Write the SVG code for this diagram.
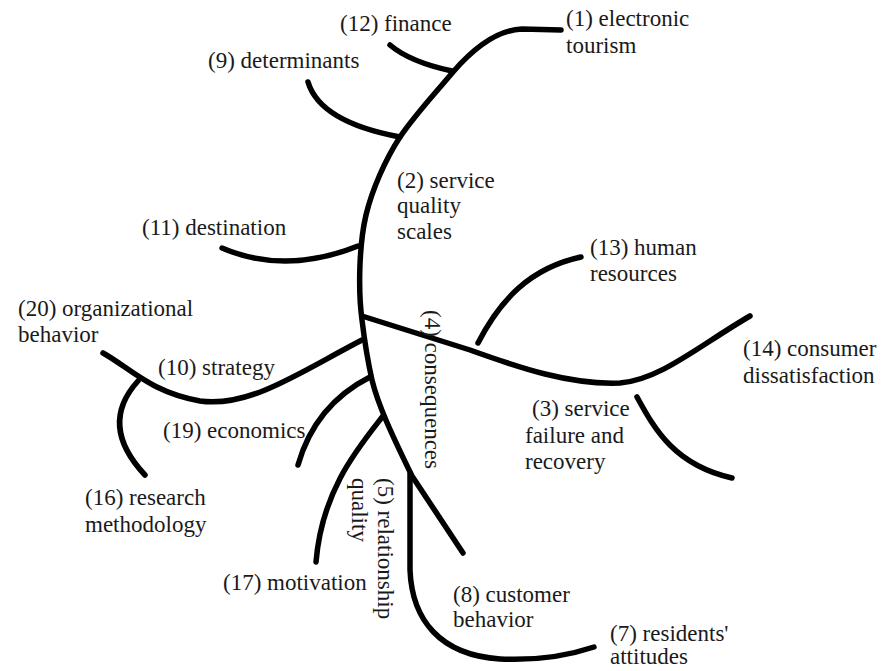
<svg xmlns="http://www.w3.org/2000/svg" width="888" height="671" viewBox="0 0 888 671">
<style>
.c{fill:none;stroke:#000;stroke-width:5.5;stroke-linecap:round;stroke-linejoin:round}
text{font-family:"Liberation Serif","Times New Roman",serif;font-size:23px;fill:#1a1a1a}
</style>
<rect width="888" height="671" fill="#fff"/>
<g id="connectors">
<path class="c" d="M561,30 L522,29 C495,30 472,50 453,72 C432,97 415,115 400,137 C385,160 372,190 366,215 C359,245 358,290 362,320 C365,345 368,362 372,380 C378,405 392,435 412,476 L463,553"/>
<path class="c" d="M390,45 Q410,62 452,71"/>
<path class="c" d="M308,82 Q320,122 400,137"/>
<path class="c" d="M222,248 Q285,275 358,246"/>
<path class="c" d="M103,353 C130,368 150,392 200,401 C250,408 300,372 362,340"/>
<path class="c" d="M138,381 Q98,425 145,475"/>
<path class="c" d="M370,377 Q315,405 298,465"/>
<path class="c" d="M383,416 C358,448 322,490 316,562"/>
<path class="c" d="M362,316 L470,350 C520,368 570,385 620,383 C660,380 700,345 750,316"/>
<path class="c" d="M478,343 C500,300 530,268 581,257"/>
<path class="c" d="M637,397 C655,430 675,465 732,478"/>
<path class="c" d="M410,474 L410,570 C412,620 440,655 500,659 C540,661 570,655 594,647"/>
</g>
<g id="n1"><text x="566" y="26">(1) electronic</text><text x="566" y="53">tourism</text></g>
<g id="n12"><text x="340" y="31">(12) finance</text></g>
<g id="n9"><text x="208" y="68">(9) determinants</text></g>
<g id="n2"><text x="397" y="188">(2) service</text><text x="397" y="213">quality</text><text x="397" y="239">scales</text></g>
<g id="n11"><text x="142" y="235">(11) destination</text></g>
<g id="n20"><text x="18" y="316">(20) organizational</text><text x="18" y="342">behavior</text></g>
<g id="n10"><text x="158" y="375">(10) strategy</text></g>
<g id="n19"><text x="163" y="438">(19) economics</text></g>
<g id="n16"><text x="85" y="505">(16) research</text><text x="85" y="532">methodology</text></g>
<g id="n17"><text x="223" y="590">(17) motivation</text></g>
<g id="n13"><text x="590" y="255">(13) human</text><text x="590" y="281">resources</text></g>
<g id="n14"><text x="743" y="356">(14) consumer</text><text x="743" y="383">dissatisfaction</text></g>
<g id="n3"><text x="532" y="416">(3) service</text><text x="525" y="443">failure and</text><text x="525" y="469">recovery</text></g>
<g id="n8"><text x="453" y="602">(8) customer</text><text x="453" y="627">behavior</text></g>
<g id="n7"><text x="610" y="641">(7) residents'</text><text x="610" y="664">attitudes</text></g>
<g id="n4"><text transform="translate(425,310) rotate(90)">(4) consequences</text></g>
<g id="n5"><text transform="translate(378,478) rotate(90)">(5) relationship</text><text transform="translate(352,478) rotate(90)">quality</text></g>
</svg>
